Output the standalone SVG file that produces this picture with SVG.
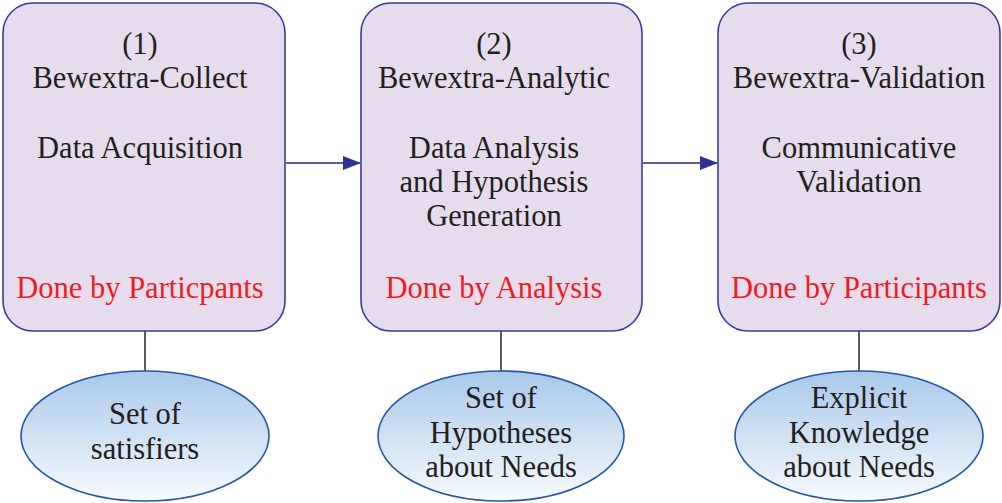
<svg xmlns="http://www.w3.org/2000/svg" width="1002" height="503" viewBox="0 0 1002 503">
<defs>
<linearGradient id="eg" x1="0" y1="0" x2="0" y2="1">
<stop offset="0" stop-color="#a8c9e9"/>
<stop offset="1" stop-color="#f7fafe"/>
</linearGradient>
<marker id="ah" markerWidth="18" markerHeight="14" refX="17" refY="7" orient="auto" markerUnits="userSpaceOnUse">
<path d="M0,0 L18,7 L0,14 Z" fill="#2e3192"/>
</marker>
<style>
.box{fill:#e6dcee;stroke:#3b3b9c;stroke-width:1.6}
.ell{fill:url(#eg);stroke:#2557a7;stroke-width:1.6}
.t{font-family:"Liberation Serif","Times New Roman",serif;font-size:30.5px;fill:#231f20;text-anchor:middle}
.red{fill:#ed1c24}
.arr{stroke:#5a5aa8;stroke-width:2;fill:none;marker-end:url(#ah)}
.ln{stroke:#333333;stroke-width:1.6;fill:none}
</style>
</defs>
<g id="connectors">
<line class="arr" x1="286" y1="163" x2="360" y2="163"/>
<line class="arr" x1="643" y1="163" x2="717" y2="163"/>
<line class="ln" x1="145" y1="331" x2="145" y2="372"/>
<line class="ln" x1="501" y1="331" x2="501" y2="372"/>
<line class="ln" x1="859" y1="331" x2="859" y2="372"/>
</g>
<g id="box1">
<rect class="box" x="3" y="3" width="282" height="328" rx="30"/>
<text class="t" font-family="Liberation Serif" x="140" y="54">(1)</text>
<text class="t" font-family="Liberation Serif" x="140" y="88">Bewextra-Collect</text>
<text class="t" font-family="Liberation Serif" x="140" y="158">Data Acquisition</text>
<text class="t red" font-family="Liberation Serif" x="140" y="298">Done by Particpants</text>
</g>
<g id="box2">
<rect class="box" x="361" y="3" width="281" height="328" rx="30"/>
<text class="t" font-family="Liberation Serif" x="494" y="54">(2)</text>
<text class="t" font-family="Liberation Serif" x="494" y="88">Bewextra-Analytic</text>
<text class="t" font-family="Liberation Serif" x="494" y="158">Data Analysis</text>
<text class="t" font-family="Liberation Serif" x="494" y="192">and Hypothesis</text>
<text class="t" font-family="Liberation Serif" x="494" y="226">Generation</text>
<text class="t red" font-family="Liberation Serif" x="494" y="298">Done by Analysis</text>
</g>
<g id="box3">
<rect class="box" x="718" y="3" width="282" height="328" rx="30"/>
<text class="t" font-family="Liberation Serif" x="859" y="54">(3)</text>
<text class="t" font-family="Liberation Serif" x="859" y="88">Bewextra-Validation</text>
<text class="t" font-family="Liberation Serif" x="859" y="158">Communicative</text>
<text class="t" font-family="Liberation Serif" x="859" y="192">Validation</text>
<text class="t red" font-family="Liberation Serif" x="859" y="298">Done by Participants</text>
</g>
<g id="ell1">
<ellipse class="ell" cx="145" cy="436" rx="124" ry="65"/>
<text class="t" font-family="Liberation Serif" x="145" y="424">Set of</text>
<text class="t" font-family="Liberation Serif" x="145" y="459">satisfiers</text>
</g>
<g id="ell2">
<ellipse class="ell" cx="501" cy="436" rx="123" ry="65"/>
<text class="t" font-family="Liberation Serif" x="501" y="408">Set of</text>
<text class="t" font-family="Liberation Serif" x="501" y="443">Hypotheses</text>
<text class="t" font-family="Liberation Serif" x="501" y="477">about Needs</text>
</g>
<g id="ell3">
<ellipse class="ell" cx="859" cy="436" rx="124" ry="65"/>
<text class="t" font-family="Liberation Serif" x="859" y="408">Explicit</text>
<text class="t" font-family="Liberation Serif" x="859" y="443">Knowledge</text>
<text class="t" font-family="Liberation Serif" x="859" y="477">about Needs</text>
</g>
</svg>
